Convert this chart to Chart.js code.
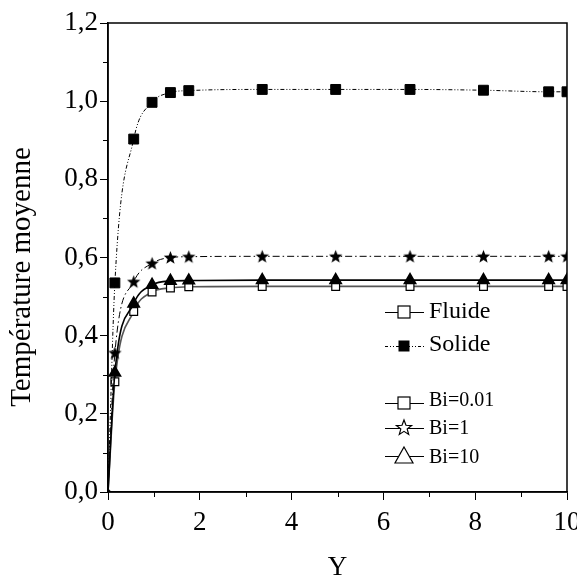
<!DOCTYPE html>
<html><head><meta charset="utf-8">
<script src="https://cdn.jsdelivr.net/npm/chart.js@4"></script>
<style>html,body{margin:0;padding:0;background:#fff}#wrap{width:577px;height:578px}</style>
</head><body><div id="wrap"><canvas id="c" width="577" height="578"></canvas></div>
<script>
// ---- data ----
const xValues   = [0, 0.15, 0.56, 0.96, 1.36, 1.76, 3.36, 4.96, 6.58, 8.18, 9.6, 10];
const solide    = [0, 0.535, 0.903, 0.997, 1.022, 1.027, 1.030, 1.030, 1.030, 1.028, 1.024, 1.024];
const bi1       = [0, 0.356, 0.538, 0.585, 0.600, 0.602, 0.603, 0.603, 0.603, 0.603, 0.603, 0.603];
const bi10      = [0, 0.305, 0.482, 0.530, 0.540, 0.541, 0.542, 0.542, 0.542, 0.542, 0.542, 0.542];
const bi001     = [0, 0.282, 0.462, 0.512, 0.522, 0.525, 0.526, 0.526, 0.526, 0.526, 0.526, 0.526];
const yMajorTicks = [0, 0.2, 0.4, 0.6, 0.8, 1.0, 1.2];
const yMinorTicks = [0.1, 0.3, 0.5, 0.7, 0.9, 1.1];
const xMajorTicks = [0, 2, 4, 6, 8, 10];
const xMinorTicks = [1, 3, 5, 7, 9];
const legendLabels = ['Fluide', 'Solide', 'Bi=0.01', 'Bi=1', 'Bi=10'];
const xTitle = 'Y';
const yTitle = 'Température moyenne';

const FONT = '"Liberation Serif", "Times New Roman", serif';

function drawStar(g, cx, cy, r, fill) {
  g.beginPath();
  for (let i = 0; i < 10; i++) {
    const rr = i % 2 === 0 ? r : r * 0.42;
    const a = -Math.PI / 2 + i * Math.PI / 5;
    const px = cx + rr * Math.cos(a), py = cy + rr * Math.sin(a);
    if (i === 0) g.moveTo(px, py); else g.lineTo(px, py);
  }
  g.closePath();
  if (fill) { g.fillStyle = '#000'; g.fill(); }
  else { g.fillStyle = '#fff'; g.fill(); g.strokeStyle = '#000'; g.lineWidth = 1.2; g.stroke(); }
}
function starCanvas(r) {
  const c = document.createElement('canvas');
  const s = Math.ceil(2 * r + 3);
  c.width = c.height = s;
  drawStar(c.getContext('2d'), s / 2, s / 2 + 0.5, r, true);
  return c;
}
const starImg = starCanvas(7);

function pts(ys) { return xValues.map((x, i) => ({x, y: ys[i]})); }
function radii(first, rest) { return xValues.map((_, i) => i === 0 ? first : rest); }

const frameAndLegend = {
  id: 'frameAndLegend',
  afterDraw(chart) {
    const {ctx, chartArea: a, scales: {x, y}} = chart;
    ctx.save();
    ctx.strokeStyle = '#000';
    ctx.lineWidth = 1.5;
    ctx.strokeRect(a.left, a.top, a.right - a.left, a.bottom - a.top);
    ctx.lineWidth = 1;
    yMinorTicks.forEach(v => {
      const py = Math.round(y.getPixelForValue(v)) + 0.5;
      ctx.beginPath(); ctx.moveTo(a.left - 5, py); ctx.lineTo(a.left, py); ctx.stroke();
    });
    xMinorTicks.forEach(v => {
      const px = Math.round(x.getPixelForValue(v)) + 0.5;
      ctx.beginPath(); ctx.moveTo(px, a.bottom); ctx.lineTo(px, a.bottom + 5); ctx.stroke();
    });
    // y-axis title (offset slightly below the axis centre, as in the reference)
    ctx.save();
    ctx.translate(22, 277);
    ctx.rotate(-Math.PI / 2);
    ctx.font = '29px ' + FONT;
    ctx.fillStyle = '#000';
    ctx.textAlign = 'center'; ctx.textBaseline = 'middle';
    ctx.fillText(yTitle, 0, 0);
    ctx.restore();
    // legend
    const lx0 = 385, lx1 = 424, mx = 404, tx = 429;
    const rows = [
      {label: legendLabels[0], ly: 312, by: 318, size: 24, dash: [], mark: 'openRect'},
      {label: legendLabels[1], ly: 346, by: 351, size: 24, dash: [3, 2, 1, 2, 1, 2], mark: 'fillRect'},
      {label: legendLabels[2], ly: 403, by: 406, size: 20, dash: [], mark: 'openRect'},
      {label: legendLabels[3], ly: 428, by: 434, size: 20, dash: [], mark: 'openStar'},
      {label: legendLabels[4], ly: 456, by: 463, size: 20, dash: [], mark: 'openTri'}
    ];
    rows.forEach(r => {
      ctx.setLineDash(r.dash);
      ctx.strokeStyle = '#000'; ctx.lineWidth = 1;
      ctx.beginPath(); ctx.moveTo(lx0, r.ly + 0.5); ctx.lineTo(lx1, r.ly + 0.5); ctx.stroke();
      ctx.setLineDash([]);
      if (r.mark === 'openRect') {
        ctx.fillStyle = '#fff'; ctx.fillRect(mx - 6, r.ly - 6, 12, 12);
        ctx.lineWidth = 1.2; ctx.strokeRect(mx - 6, r.ly - 6, 12, 12);
      } else if (r.mark === 'fillRect') {
        ctx.fillStyle = '#000'; ctx.fillRect(mx - 5.5, r.ly - 5.5, 11, 11);
      } else if (r.mark === 'openStar') {
        drawStar(ctx, mx, r.ly, 8, false);
      } else if (r.mark === 'openTri') {
        ctx.beginPath();
        ctx.moveTo(mx, r.ly - 9); ctx.lineTo(mx + 9, r.ly + 7); ctx.lineTo(mx - 9, r.ly + 7); ctx.closePath();
        ctx.fillStyle = '#fff'; ctx.fill(); ctx.lineWidth = 1.2; ctx.stroke();
      }
      ctx.fillStyle = '#000';
      ctx.font = r.size + 'px ' + FONT;
      ctx.textBaseline = 'alphabetic'; ctx.textAlign = 'left';
      ctx.fillText(r.label, tx, r.by);
    });
    ctx.restore();
  }
};

Chart.defaults.font.family = FONT;
Chart.defaults.color = '#000';

function build() {
new Chart(document.getElementById('c'), {
  type: 'line',
  data: {
    datasets: [
      {label: 'Solide', data: pts(solide), borderColor: '#000', borderWidth: 1, borderDash: [4, 2, 1, 2, 1, 2],
       pointStyle: 'rect', pointRadius: radii(2.5, 7), backgroundColor: '#000', pointBorderColor: '#000',
       pointBackgroundColor: '#000', cubicInterpolationMode: 'monotone'},
      {label: 'Bi=1', data: pts(bi1), borderColor: '#000', borderWidth: 1, borderDash: [7, 3, 1.5, 3],
       pointStyle: radii(false, starImg).map(v => v || 'circle'), pointRadius: radii(0, 7),
       pointBackgroundColor: '#000', cubicInterpolationMode: 'monotone'},
      {label: 'Bi=10', data: pts(bi10), borderColor: '#000', borderWidth: 1.6,
       pointStyle: 'triangle', pointRadius: radii(0, 6.5), pointBackgroundColor: '#000', pointBorderColor: '#000',
       cubicInterpolationMode: 'monotone'},
      {label: 'Bi=0.01', data: pts(bi001), borderColor: '#555', borderWidth: 1.6,
       pointStyle: 'rect', pointRadius: radii(0, 5.5), pointBackgroundColor: '#fff', pointBorderColor: '#000',
       pointBorderWidth: 1.2, cubicInterpolationMode: 'monotone'}
    ]
  },
  options: {
    responsive: false,
    animation: false,
    events: [],
    layout: {padding: {top: 23, right: 10, left: 0, bottom: 0}},
    plugins: {legend: {display: false}, tooltip: {enabled: false}},
    scales: {
      x: {
        type: 'linear', min: 0, max: 10,
        afterBuildTicks: s => { s.ticks = xMajorTicks.map(v => ({value: v})); },
        afterFit: s => { s.height = 86; s.paddingLeft = 0; s.paddingRight = 0; },
        ticks: {font: {size: 27}, padding: 7, maxRotation: 0, autoSkip: false, callback: v => String(v)},
        grid: {drawOnChartArea: false, tickLength: 8, tickColor: '#000', tickWidth: 1},
        border: {display: true, color: '#000', width: 1.5},
        title: {display: true, text: xTitle, font: {size: 27}, padding: {top: 0, bottom: -6}}
      },
      y: {
        type: 'linear', min: 0, max: 1.2,
        afterBuildTicks: s => { s.ticks = yMajorTicks.map(v => ({value: v})); },
        afterFit: s => { s.width = 108; s.paddingTop = 0; s.paddingBottom = 0; },
        ticks: {font: {size: 27}, padding: 2, autoSkip: false, callback: v => v.toFixed(1).replace('.', ',')},
        grid: {drawOnChartArea: false, tickLength: 8, tickColor: '#000', tickWidth: 1},
        border: {display: true, color: '#000', width: 1.5},
        title: {display: false}
      }
    }
  },
  plugins: [frameAndLegend]
});
}
const loads = [20, 24, 27, 29].map(s => document.fonts.load(s + 'px "Liberation Serif"'));
Promise.all(loads).then(build, build);
</script>
</body></html>
